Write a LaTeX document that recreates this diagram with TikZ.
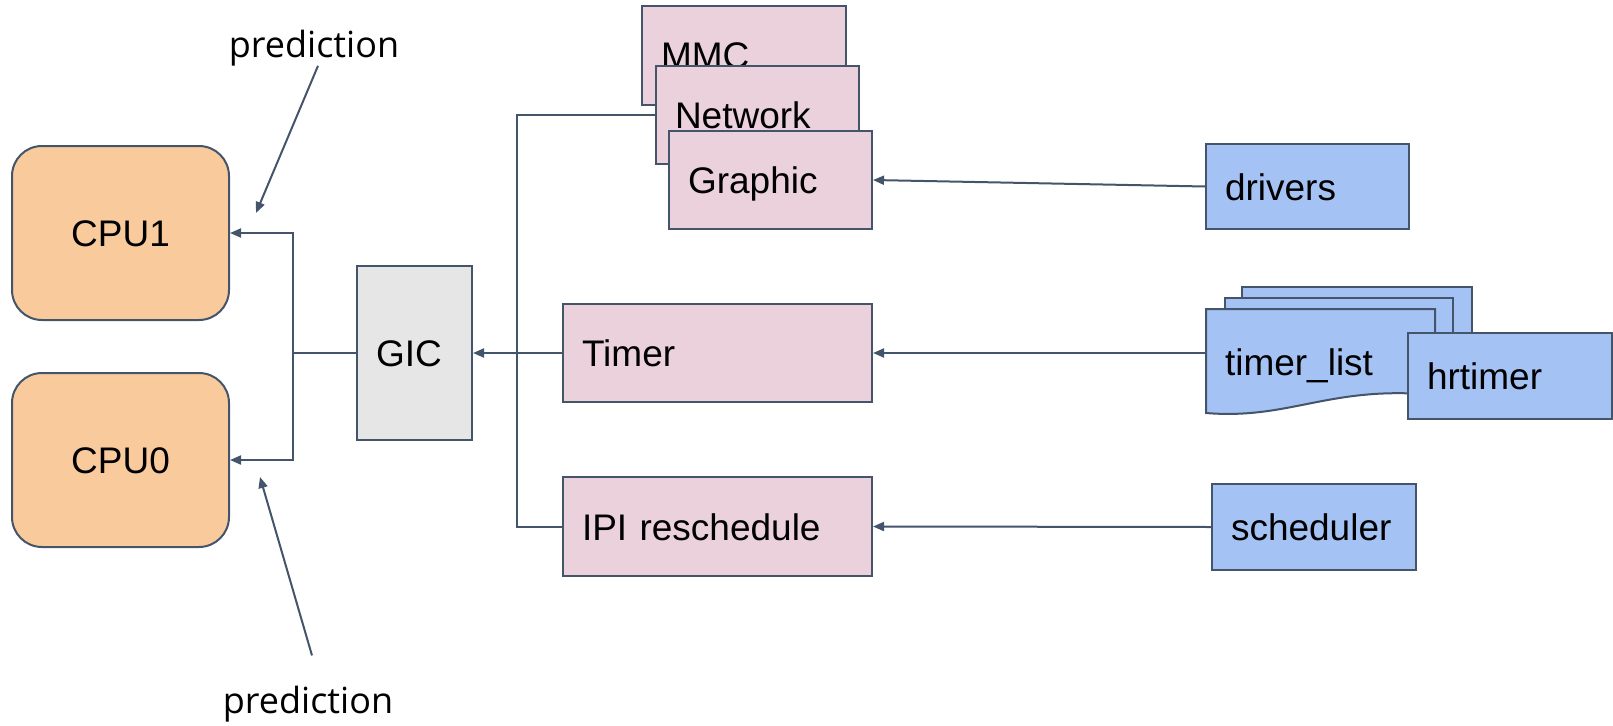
\documentclass[tikz,border=0pt]{standalone}
\usepackage{fontspec}
\setmainfont{Liberation Sans}
\newfontfamily\predfont{Open Sans}
\usetikzlibrary{arrows.meta}
\definecolor{edgec}{HTML}{44546A}
\definecolor{cpuc}{HTML}{F9CB9C}
\definecolor{gicc}{HTML}{E6E6E6}
\definecolor{irqc}{HTML}{EAD1DC}
\definecolor{srcc}{HTML}{A4C2F4}
\tikzset{
  blk/.style={draw=edgec,line width=2pt,inner xsep=19pt,inner ysep=0pt,
    align=left,text height=27pt,text depth=0pt,font=\fontsize{37}{41}\selectfont},
  irq/.style={blk,fill=irqc},
  src/.style={blk,fill=srcc},
  arr/.style={draw=edgec,line width=2pt,-{Triangle[length=11pt,width=9pt]}},
  wire/.style={draw=edgec,line width=2pt},
  pred/.style={inner sep=0pt,font=\predfont\fontsize{36}{40}\selectfont}
}
\begin{document}
\begin{tikzpicture}[x=1pt,y=-1pt]
  \useasboundingbox (0,0) rectangle (1613,725);
  % cpus and gic
  \node[blk,fill=cpuc,rounded corners=30pt,align=center,minimum width=217pt,minimum height=174pt] (cpu1) at (120.5,233) {CPU1};
  \node[blk,fill=cpuc,rounded corners=30pt,align=center,minimum width=217pt,minimum height=174pt] (cpu0) at (120.5,460) {CPU0};
  \node[blk,fill=gicc,text width=77pt,minimum height=174pt] (gic) at (414.5,353) {GIC};
  % interrupt sources
  \node[irq,text width=166pt,minimum height=99pt] (mmc) at (744,55.5) {MMC};
  \node[irq,text width=165pt,minimum height=98pt] (network) at (757.5,115) {Network};
  \node[irq,text width=165pt,minimum height=98pt] (graphic) at (770.5,180) {Graphic};
  \node[irq,text width=271pt,minimum height=98pt] (timer) at (717.5,353) {Timer};
  \node[irq,text width=271pt,minimum height=99pt] (ipi) at (717.5,526.5) {IPI reschedule};
  % users
  \node[src,text width=165pt,minimum height=85pt] (drivers) at (1307.5,186.5) {drivers};
  \filldraw[fill=srcc,draw=edgec,line width=2pt] (1242,287) rectangle (1472,390);
  \filldraw[fill=srcc,draw=edgec,line width=2pt] (1225,298) rectangle (1453,390);
  \filldraw[fill=srcc,draw=edgec,line width=2pt] (1206,309) -- (1435,309) -- (1435,395)
    .. controls (1330,385) and (1290,420) .. (1206,413) -- cycle;
  \node[blk,draw=none,text width=191pt] (tlist) at (1320.5,362) {timer\_list};
  \node[src,text width=166pt,minimum height=86pt] (hrtimer) at (1510,376) {hrtimer};
  \node[src,text width=166pt,minimum height=86pt] (sched) at (1314,527) {scheduler};
  % wiring
  \coordinate (lbus) at (293,353);
  \coordinate (rbus) at (517,353);
  \draw[arr] (gic.west) -- (lbus) |- (cpu1.east);
  \draw[arr] (lbus) |- (cpu0.east);
  \draw[arr] (timer.west) -- (gic.east);
  \draw[wire] (network.west) -| (rbus) |- (ipi.west);
  \draw[arr] (drivers.west) -- (graphic.east);
  \draw[arr] (tlist.west |- timer.east) -- (timer.east);
  \draw[arr] (sched.west) -- (ipi.east);
  % predictions
  \node[pred,anchor=base] (pred1) at (314,57) {prediction};
  \node[pred,anchor=base] (pred0) at (308,713) {prediction};
  \coordinate (p1head) at (256,213);
  \coordinate (p0head) at (260,477);
  \draw[arr] ([xshift=4pt]pred1.south) -- (p1head);
  \draw[arr] ([xshift=4pt,yshift=30pt]pred0.north) -- (p0head);
\end{tikzpicture}
\end{document}
